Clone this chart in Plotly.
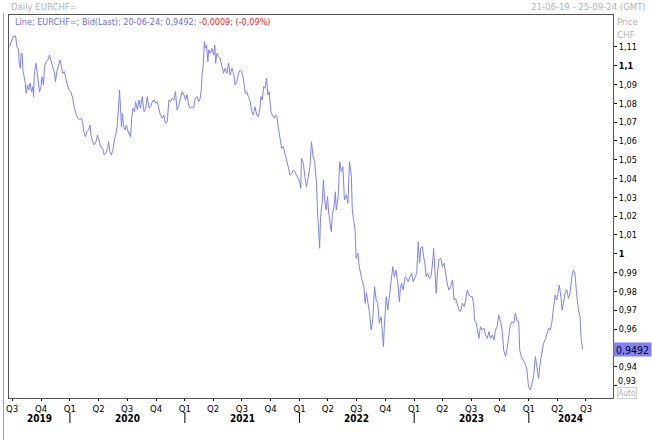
import datetime as dt
import plotly.graph_objects as go

# ---------------- data ----------------
dates = [
"2019-06-23","2019-06-28","2019-07-04","2019-07-12","2019-07-14","2019-07-16","2019-07-22","2019-07-23","2019-07-27","2019-07-30",
"2019-08-02","2019-08-04","2019-08-08","2019-08-11","2019-08-15","2019-08-19","2019-08-23","2019-08-27","2019-09-01","2019-09-05",
"2019-09-07","2019-09-10","2019-09-15","2019-09-19","2019-09-22","2019-09-26","2019-10-01","2019-10-04","2019-10-09","2019-10-12",
"2019-10-17","2019-10-23","2019-10-28","2019-11-02","2019-11-07","2019-11-13","2019-11-16","2019-11-20","2019-11-26","2019-11-30",
"2019-12-05","2019-12-09","2019-12-14","2019-12-19","2019-12-25","2019-12-30","2020-01-04","2020-01-10","2020-01-15","2020-01-20",
"2020-01-26","2020-01-31","2020-02-05","2020-02-10","2020-02-14","2020-02-19","2020-02-24","2020-02-29","2020-03-05","2020-03-08",
"2020-03-13","2020-03-18","2020-03-24","2020-03-29","2020-04-03","2020-04-08","2020-04-14","2020-04-19","2020-04-24","2020-04-30",
"2020-05-03","2020-05-07","2020-05-12","2020-05-18","2020-05-22","2020-05-26","2020-05-31","2020-06-03","2020-06-07","2020-06-10",
"2020-06-13","2020-06-16","2020-06-20","2020-06-25","2020-06-29","2020-07-04","2020-07-09","2020-07-12","2020-07-16","2020-07-20",
"2020-07-25","2020-07-28","2020-08-03","2020-08-08","2020-08-13","2020-08-18","2020-08-24","2020-08-29","2020-09-03","2020-09-09",
"2020-09-14","2020-09-19","2020-09-25","2020-09-30","2020-10-05","2020-10-10","2020-10-15","2020-10-21","2020-10-26","2020-10-31",
"2020-11-06","2020-11-11","2020-11-16","2020-11-21","2020-11-27","2020-12-02","2020-12-07","2020-12-13","2020-12-18","2020-12-23",
"2020-12-29","2021-01-03","2021-01-08","2021-01-13","2021-01-18","2021-01-24","2021-01-29","2021-02-03","2021-02-09","2021-02-14",
"2021-02-19","2021-02-22","2021-02-25","2021-03-01","2021-03-04","2021-03-07","2021-03-11","2021-03-15","2021-03-18","2021-03-23",
"2021-03-28","2021-04-03","2021-04-06","2021-04-09","2021-04-13","2021-04-18","2021-04-23","2021-04-29","2021-05-04","2021-05-09",
"2021-05-15","2021-05-20","2021-05-25","2021-05-31","2021-06-05","2021-06-10","2021-06-15","2021-06-21","2021-06-26","2021-07-01",
"2021-07-07","2021-07-12","2021-07-17","2021-07-22","2021-07-28","2021-08-02","2021-08-07","2021-08-12","2021-08-18","2021-08-23",
"2021-08-28","2021-08-31","2021-09-04","2021-09-09","2021-09-13","2021-09-18","2021-09-22","2021-09-26","2021-10-02","2021-10-06",
"2021-10-13","2021-10-17","2021-10-21","2021-10-25","2021-10-31","2021-11-05","2021-11-10","2021-11-15","2021-11-21","2021-11-26",
"2021-12-01","2021-12-07","2021-12-12","2021-12-17","2021-12-22","2021-12-28","2022-01-02","2022-01-05","2022-01-07","2022-01-13",
"2022-01-18","2022-01-23","2022-01-28","2022-02-03","2022-02-08","2022-02-13","2022-02-18","2022-02-24","2022-02-27","2022-03-03",
"2022-03-06","2022-03-09","2022-03-14","2022-03-18","2022-03-22","2022-03-27","2022-03-31","2022-04-04","2022-04-08","2022-04-12",
"2022-04-16","2022-04-21","2022-04-25","2022-04-28","2022-05-04","2022-05-09","2022-05-14","2022-05-19","2022-05-24","2022-05-30",
"2022-06-04","2022-06-09","2022-06-15","2022-06-18","2022-06-22","2022-06-27","2022-06-30","2022-07-06","2022-07-10","2022-07-14",
"2022-07-19","2022-07-25","2022-07-29","2022-08-02","2022-08-07","2022-08-12","2022-08-17","2022-08-22","2022-08-28","2022-09-02",
"2022-09-07","2022-09-12","2022-09-18","2022-09-21","2022-09-25","2022-09-28","2022-10-04","2022-10-09","2022-10-14","2022-10-19",
"2022-10-25","2022-10-30","2022-11-04","2022-11-10","2022-11-15","2022-11-18","2022-11-22","2022-11-27","2022-12-03","2022-12-08",
"2022-12-13","2022-12-19","2022-12-24","2022-12-29","2023-01-03","2023-01-09","2023-01-14","2023-01-18","2023-01-22","2023-01-27",
"2023-01-31","2023-02-04","2023-02-08","2023-02-13","2023-02-18","2023-02-23","2023-02-28","2023-03-04","2023-03-08","2023-03-12",
"2023-03-16","2023-03-21","2023-03-27","2023-04-01","2023-04-06","2023-04-12","2023-04-17","2023-04-22","2023-04-27","2023-05-03",
"2023-05-08","2023-05-13","2023-05-19","2023-05-24","2023-05-29","2023-06-03","2023-06-09","2023-06-14","2023-06-19","2023-06-24",
"2023-06-30","2023-07-05","2023-07-10","2023-07-12","2023-07-18","2023-07-21","2023-07-26","2023-07-31","2023-08-06","2023-08-11",
"2023-08-16","2023-08-22","2023-08-27","2023-09-01","2023-09-07","2023-09-12","2023-09-17","2023-09-22","2023-09-27","2023-10-03",
"2023-10-08","2023-10-13","2023-10-19","2023-10-24","2023-10-29","2023-11-03","2023-11-09","2023-11-14","2023-11-19","2023-11-25",
"2023-11-30","2023-12-03","2023-12-08","2023-12-13","2023-12-17","2023-12-22","2023-12-26","2023-12-31","2024-01-06","2024-01-11",
"2024-01-16","2024-01-22","2024-01-27","2024-02-01","2024-02-06","2024-02-12","2024-02-17","2024-02-22","2024-02-27","2024-03-04",
"2024-03-09","2024-03-14","2024-03-20","2024-03-25","2024-03-30","2024-04-04","2024-04-07","2024-04-12","2024-04-16","2024-04-20",
"2024-04-25","2024-05-01","2024-05-06","2024-05-11","2024-05-17","2024-05-22","2024-05-27","2024-06-01","2024-06-07","2024-06-12",
"2024-06-15","2024-06-19","2024-06-20",
]

eurchf = [
1.1102,1.1128,1.1155,1.1159,1.1128,1.1102,1.1084,1.1022,1.0987,1.1067,
1.1063,1.0978,1.0942,1.0915,1.0854,1.0898,1.0871,1.0907,1.0862,1.0889,
1.0836,1.0969,1.1013,1.0960,1.0898,1.0862,1.0889,1.0942,1.0898,1.0995,
1.1022,1.1031,1.1057,1.1022,1.1004,1.0960,1.0915,1.0969,1.1004,1.1031,
1.0995,1.0960,1.0969,1.0924,1.0889,1.0871,1.0862,1.0827,1.0774,1.0747,
1.0721,1.0712,1.0721,1.0703,1.0650,1.0623,1.0650,1.0659,1.0685,1.0632,
1.0596,1.0579,1.0596,1.0632,1.0605,1.0570,1.0561,1.0526,1.0535,1.0561,
1.0596,1.0543,1.0526,1.0561,1.0614,1.0632,1.0685,1.0765,1.0871,1.0774,
1.0676,1.0747,1.0676,1.0659,1.0685,1.0650,1.0632,1.0623,1.0729,1.0774,
1.0756,1.0809,1.0765,1.0818,1.0774,1.0836,1.0756,1.0774,1.0836,1.0774,
1.0782,1.0809,1.0818,1.0801,1.0809,1.0774,1.0738,1.0721,1.0738,1.0694,
1.0703,1.0818,1.0809,1.0827,1.0818,1.0862,1.0765,1.0791,1.0836,1.0862,
1.0845,1.0818,1.0845,1.0791,1.0774,1.0782,1.0774,1.0827,1.0836,1.0809,
1.0827,1.0871,1.0960,1.1013,1.1128,1.1093,1.1111,1.1022,1.1084,1.1067,
1.1093,1.1057,1.1111,1.1013,1.1067,1.1048,1.1040,1.1004,1.0960,1.0987,
1.0960,1.1013,1.0951,1.0987,1.0960,1.0898,1.0915,1.0960,1.0978,1.0969,
1.0924,1.0854,1.0862,1.0836,1.0809,1.0756,1.0738,1.0782,1.0738,1.0729,
1.0774,1.0836,1.0818,1.0889,1.0880,1.0934,1.0845,1.0862,1.0756,1.0738,
1.0721,1.0738,1.0729,1.0676,1.0605,1.0561,1.0570,1.0535,1.0508,1.0463,
1.0419,1.0428,1.0446,1.0437,1.0419,1.0402,1.0375,1.0348,1.0508,1.0481,
1.0410,1.0357,1.0402,1.0463,1.0596,1.0517,1.0490,1.0375,1.0233,1.0127,
1.0029,1.0197,1.0269,1.0393,1.0286,1.0233,1.0304,1.0215,1.0162,1.0118,
1.0215,1.0251,1.0330,1.0233,1.0304,1.0490,1.0437,1.0463,1.0286,1.0313,
1.0269,1.0490,1.0410,1.0233,1.0180,1.0127,0.9976,1.0003,0.9931,0.9896,
0.9861,0.9825,0.9737,0.9790,0.9737,0.9684,0.9595,0.9648,0.9825,0.9754,
0.9737,0.9630,0.9665,0.9577,0.9506,0.9612,0.9772,0.9701,0.9781,0.9825,
0.9931,0.9878,0.9914,0.9843,0.9745,0.9816,0.9843,0.9807,0.9878,0.9870,
0.9852,0.9878,0.9896,0.9852,0.9870,0.9896,1.0064,0.9950,1.0029,1.0038,
0.9985,0.9950,0.9878,0.9896,0.9870,0.9878,0.9940,1.0029,0.9914,0.9790,
0.9896,0.9967,0.9976,0.9931,0.9950,0.9878,0.9834,0.9807,0.9825,0.9861,
0.9754,0.9763,0.9728,0.9701,0.9692,0.9737,0.9719,0.9754,0.9807,0.9781,
0.9772,0.9772,0.9719,0.9648,0.9630,0.9595,0.9550,0.9612,0.9595,0.9604,
0.9568,0.9550,0.9586,0.9550,0.9568,0.9542,0.9595,0.9612,0.9675,0.9639,
0.9595,0.9488,0.9453,0.9497,0.9559,0.9621,0.9639,0.9630,0.9684,0.9639,
0.9639,0.9488,0.9453,0.9435,0.9418,0.9409,0.9382,0.9293,0.9276,0.9311,
0.9346,0.9453,0.9382,0.9338,0.9418,0.9488,0.9524,0.9542,0.9577,0.9604,
0.9595,0.9630,0.9719,0.9781,0.9754,0.9807,0.9834,0.9772,0.9701,0.9737,
0.9790,0.9807,0.9763,0.9790,0.9878,0.9914,0.9896,0.9790,0.9701,0.9665,
0.9559,0.9506,0.9492,
]

x_range = ["2019-06-21", "2024-09-25"]
y_range = [0.9233, 1.1270]

price_ticks = [0.93, 0.94, 0.96, 0.97, 0.98, 0.99, 1.00, 1.01, 1.02, 1.03,
               1.04, 1.05, 1.06, 1.07, 1.08, 1.09, 1.10, 1.11]
price_labels = ["0,93", "0,94", "0,96", "0,97", "0,98", "0,99", "<b>1</b>", "1,01", "1,02", "1,03",
                "1,04", "1,05", "1,06", "1,07", "1,08", "1,09", "<b>1,1</b>", "1,11"]

quarter_ticks = ["2019-07-01", "2019-10-01",
                 "2020-01-01", "2020-04-01", "2020-07-01", "2020-10-01",
                 "2021-01-01", "2021-04-01", "2021-07-01", "2021-10-01",
                 "2022-01-01", "2022-04-01", "2022-07-01", "2022-10-01",
                 "2023-01-01", "2023-04-01", "2023-07-01", "2023-10-01",
                 "2024-01-01", "2024-04-01", "2024-07-01"]
quarter_labels = ["Q3", "Q4",
                  "Q1", "Q2", "Q3", "Q4",
                  "Q1", "Q2", "Q3", "Q4",
                  "Q1", "Q2", "Q3", "Q4",
                  "Q1", "Q2", "Q3", "Q4",
                  "Q1", "Q2", "Q3"]
years = [2019, 2020, 2021, 2022, 2023, 2024]

last_value_label = "0,9492"
title_text = "Daily EURCHF="
period_text = "21-06-19 - 25-09-24 (GMT)"
legend_blue = "Line; EURCHF=; Bid(Last); 20-06-24; 0,9492; "
legend_red = "-0,0009; (-0,09%)"

# ---------------- styling ----------------
FONT = "DejaVu Sans Condensed, DejaVu Sans, sans-serif"
LINE_COLOR = "#8080ff"
GREY_TEXT = "#b4b4b4"

W, H = 652, 440
ML, MR, MT, MB = 6, 39, 15, 42
PW, PH = W - ML - MR, H - MT - MB


def px_x(px):
    return (px - ML) / PW


def px_y(py):
    return (H - MB - py) / PH


fig = go.Figure()
fig.add_trace(go.Scatter(
    x=dates, y=eurchf, mode="lines",
    line=dict(color=LINE_COLOR, width=1),
    hoverinfo="skip", showlegend=False,
))

annotations = []
shapes = []

# year labels and year separators
start = dt.date.fromisoformat(x_range[0])
end = dt.date.fromisoformat(x_range[1])
for yr in years:
    a = max(start, dt.date(yr, 1, 1))
    b = min(end, dt.date(yr, 12, 31))
    mid = a + (b - a) / 2
    annotations.append(dict(
        x=mid.isoformat(), xref="x", y=px_y(418), yref="paper",
        text=f"<b>{yr}</b>", showarrow=False,
        font=dict(family=FONT, size=10, color="#000000"),
        xanchor="center", yanchor="middle"))
    if yr > years[0]:
        d = dt.date(yr, 1, 1).isoformat()
        shapes.append(dict(type="line", xref="x", yref="paper",
                           x0=d, x1=d, y0=px_y(412), y1=px_y(423),
                           line=dict(color="#000000", width=1)))

# the lowest price label sits a little higher, clear of the "Auto" box
low_idx = 0
low_label = price_labels[low_idx]
axis_labels = list(price_labels)
axis_labels[low_idx] = ""

# header texts
annotations += [
    dict(x=px_x(6), y=px_y(7), xref="paper", yref="paper", text=title_text,
         showarrow=False, xanchor="left", yanchor="middle",
         font=dict(family=FONT, size=9.5, color=GREY_TEXT)),
    dict(x=px_x(648), y=px_y(7), xref="paper", yref="paper", text=period_text,
         showarrow=False, xanchor="right", yanchor="middle",
         font=dict(family=FONT, size=9.5, color=GREY_TEXT)),
    dict(x=px_x(615), y=px_y(22), xref="paper", yref="paper", text="Price",
         showarrow=False, xanchor="left", yanchor="middle",
         font=dict(family=FONT, size=9.5, color=GREY_TEXT)),
    dict(x=px_x(615), y=px_y(34), xref="paper", yref="paper", text="CHF",
         showarrow=False, xanchor="left", yanchor="middle",
         font=dict(family=FONT, size=9.5, color=GREY_TEXT)),
    dict(x=px_x(10), y=px_y(22), xref="paper", yref="paper",
         text=f"<span style='color:#6b6bff'>{legend_blue}</span>"
              f"<span style='color:#ff2020'>{legend_red}</span>",
         showarrow=False, xanchor="left", yanchor="middle",
         font=dict(family=FONT, size=9, color="#6b6bff")),
    dict(x=px_x(617), y=px_y(393), xref="paper", yref="paper", text="Auto",
         showarrow=False, xanchor="left", yanchor="middle",
         bordercolor="#cfcfcf", borderwidth=1, borderpad=0,
         font=dict(family=FONT, size=8.5, color=GREY_TEXT)),
    dict(x=1, xref="paper", y=price_ticks[low_idx], yref="y", text=low_label,
         showarrow=False, xanchor="left", yanchor="middle", xshift=3, yshift=4,
         font=dict(family=FONT, size=9, color="#000000")),
    dict(x=1, xref="paper", y=eurchf[-1], yref="y", text=last_value_label,
         showarrow=False, xanchor="left", yanchor="middle", xshift=0,
         bgcolor=LINE_COLOR, borderpad=0, width=37, height=13, align="center",
         font=dict(family=FONT, size=10.5, color="#000000")),
]

# window edge on the far left
shapes.append(dict(type="line", xref="paper", yref="paper",
                   x0=px_x(0.5), x1=px_x(0.5), y0=px_y(13), y1=px_y(440),
                   line=dict(color="#a0a0a0", width=1)))

fig.update_layout(
    width=W, height=H,
    margin=dict(l=ML, r=MR, t=MT, b=MB),
    paper_bgcolor="#ffffff", plot_bgcolor="#ffffff",
    font=dict(family=FONT, size=10, color="#000000"),
    showlegend=False,
    annotations=annotations,
    shapes=shapes,
    xaxis=dict(
        type="date", range=x_range, showgrid=False, zeroline=False,
        tickmode="array", tickvals=quarter_ticks, ticktext=quarter_labels,
        ticks="outside", ticklen=2, tickwidth=1, tickcolor="#000000",
        tickfont=dict(family=FONT, size=9.5, color="#000000"),
        showline=True, mirror=True, linecolor="#555555", linewidth=1,
        fixedrange=True,
    ),
    yaxis=dict(
        range=y_range, side="right", showgrid=False, zeroline=False,
        tickmode="array", tickvals=price_ticks, ticktext=axis_labels,
        ticks="outside", ticklen=3, tickwidth=1, tickcolor="#000000",
        tickfont=dict(family=FONT, size=9, color="#000000"),
        showline=True, mirror=True, linecolor="#555555", linewidth=1,
        fixedrange=True,
    ),
)

fig.write_html("out.html", config={"displayModeBar": False},
               post_script="document.body.style.margin='0';")
